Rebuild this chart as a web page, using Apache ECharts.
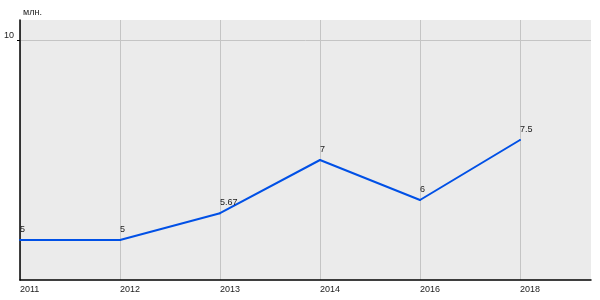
<!DOCTYPE html>
<html><head><meta charset="utf-8">
<script src="https://cdn.jsdelivr.net/npm/echarts@6/dist/echarts.min.js"></script>
<style>html,body{margin:0;padding:0;background:#fff}#c{width:600px;height:300px}</style>
</head><body><div id="c"></div>
<script>
const categories = ['2011','2012','2013','2014','2016','2018'];
const values = [5, 5, 5.67, 7, 6, 7.5];
const valueLabels = ['5','5','5.67','7','6','7.5'];
const yTickValues = [10];
const unitLabel = 'млн.';

const chart = echarts.init(document.getElementById('c'), null, {renderer:'canvas'});
const idx = categories.map((c,i)=>i);
chart.setOption({
  animation:false,
  textStyle:{fontFamily:'Liberation Sans, Arial, sans-serif'},
  title:{text:unitLabel,left:18,top:3,textStyle:{fontSize:9,fontWeight:'normal',color:'#222'}},
  grid:{left:20,top:20,right:9,bottom:20,show:true,backgroundColor:'#ebebeb',borderWidth:0},
  xAxis:{type:'value',min:0,max:5.71,
    axisLine:{show:true,onZero:false,lineStyle:{color:'#000',width:1.5}},
    axisTick:{show:false,customValues:idx},
    axisLabel:{customValues:idx,formatter:v=>categories[Math.round(v)]||'',align:'left',color:'#222',fontSize:9,margin:5},
    splitLine:{show:true,lineStyle:{color:'#c4c4c4',width:1}}
  },
  yAxis:{type:'value',min:4,max:10.5,
    axisLine:{show:true,onZero:false,lineStyle:{color:'#000',width:1.5}},
    axisTick:{show:true,length:3,customValues:yTickValues,lineStyle:{color:'#000'}},
    axisLabel:{customValues:yTickValues,color:'#222',fontSize:9,margin:6,verticalAlign:'bottom'},
    splitLine:{show:true,lineStyle:{color:'#c4c4c4',width:1}}
  },
  series:[{type:'line',data:values.map((v,i)=>[i,v]),
    symbol:'circle',symbolSize:2,showSymbol:true,itemStyle:{color:'#0050e6'},
    lineStyle:{color:'#0050e6',width:2},
    label:{show:true,position:'top',align:'left',distance:5,fontSize:9,color:'#222',
      formatter:function(p){return valueLabels[p.dataIndex];}}
  }]
});
</script></body></html>
